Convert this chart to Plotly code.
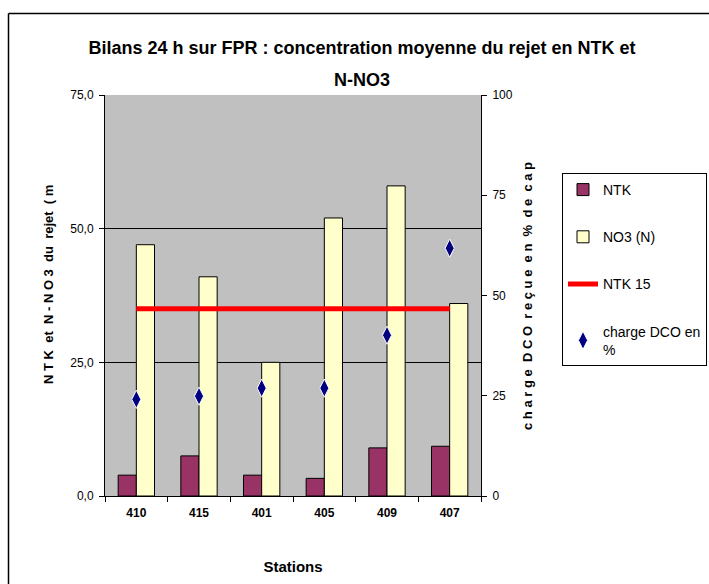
import plotly.graph_objects as go

stations = ["410", "415", "401", "405", "409", "407"]
ntk = [3.9, 7.5, 3.9, 3.3, 9.0, 9.3]
no3 = [47, 41, 25, 52, 58, 36]
ntk15 = [35, 35, 35, 35, 35, 35]
charge_dco = [24.1, 24.9, 26.9, 26.9, 40.1, 61.8]

FONT = "Liberation Sans Narrow, Arial Narrow, Liberation Sans, Arial, sans-serif"

fig = go.Figure()
fig.add_trace(go.Bar(x=stations, y=ntk, name="NTK", legendgroup="a",
                     marker=dict(color="#993366", line=dict(color="black", width=1))))
fig.add_trace(go.Bar(x=stations, y=no3, name="NO3 (N)", legendgroup="b",
                     marker=dict(color="#FFFFCC", line=dict(color="black", width=1))))
fig.add_trace(go.Scatter(x=stations, y=ntk15, name="NTK 15", legendgroup="c", mode="lines",
                         line=dict(color="#FF0000", width=5)))
fig.add_trace(go.Scatter(x=stations, y=charge_dco, name="charge DCO en<br>%", legendgroup="d",
                         mode="markers", yaxis="y2",
                         marker=dict(symbol="diamond-tall", size=13, color="#000080",
                                     line=dict(color="white", width=1))))

fig.update_layout(
    width=709, height=584,
    margin=dict(l=105, r=228, t=95, b=88, autoexpand=False),
    paper_bgcolor="white", plot_bgcolor="#C0C0C0",
    separators=", ",
    font=dict(family=FONT, size=12, color="black"),
    barmode="group", bargap=0.42, bargroupgap=0,
    title=dict(text="<b>Bilans 24 h sur FPR : concentration moyenne du rejet en NTK et</b>",
               x=362 / 709, xref="container", xanchor="center", y=1 - 48 / 584, yref="container",
               yanchor="middle", font=dict(family=FONT, size=18)),
    xaxis=dict(type="category", showline=True, linecolor="black", linewidth=1,
               ticks="outside", tickson="boundaries", ticklen=5, tickcolor="black",
               tickfont=dict(family=FONT, size=12), showgrid=False, ticklabelstandoff=6,
               tickprefix="<b>", ticksuffix="</b>",
               title=dict(text="<b>Stations</b>", font=dict(family=FONT, size=15), standoff=42)),
    yaxis=dict(range=[0, 75], dtick=25, tickformat=".1f", showline=True, linecolor="black",
               ticks="outside", ticklen=5, tickcolor="black", showgrid=True, gridcolor="black",
               gridwidth=1, zeroline=False, tickfont=dict(family=FONT, size=12), ticklabelstandoff=3),
    yaxis2=dict(range=[0, 100], dtick=25, overlaying="y", side="right", showline=True,
                linecolor="black", ticks="outside", ticklen=5, tickcolor="black",
                showgrid=False, zeroline=False, tickfont=dict(family=FONT, size=12), ticklabelstandoff=3),
    legend=dict(x=(562 - 105) / 376, y=(496 - 173) / 401, xanchor="left", yanchor="top", bgcolor="white",
                bordercolor="black", borderwidth=1, tracegroupgap=26,
                font=dict(family=FONT, size=14), itemwidth=30),
    showlegend=True,
)

fig.add_annotation(text="<b>N-NO3</b>", xref="paper", yref="paper",
                   x=(362 - 105) / 376, y=(496 - 80) / 401, xanchor="center", yanchor="middle",
                   showarrow=False, font=dict(family=FONT, size=18))
fig.add_annotation(text="<b>N T K  et  N - N O 3  du  rejet  ( m</b>", xref="paper", yref="paper",
                   x=(48 - 105) / 376, y=(496 - 284) / 401, xanchor="center", yanchor="middle",
                   textangle=-90, showarrow=False, font=dict(family=FONT, size=13))
fig.add_annotation(text="<b>c h a r g e  D C O  r e ç u e  e n  %  d e  c a p</b>", xref="paper", yref="paper",
                   x=(527 - 105) / 376, y=(496 - 296) / 401, xanchor="center", yanchor="middle",
                   textangle=-90, showarrow=False, font=dict(family=FONT, size=13))

bx = (8.5 - 105) / 376
by = (496 - 13.5) / 401
fig.add_shape(type="line", xref="paper", yref="paper", x0=bx, x1=bx, y0=-0.3, y1=by,
              line=dict(color="black", width=1.5))
fig.add_shape(type="line", xref="paper", yref="paper", x0=bx, x1=1.7, y0=by, y1=by,
              line=dict(color="black", width=1.5))

fig.write_html("out.html")
